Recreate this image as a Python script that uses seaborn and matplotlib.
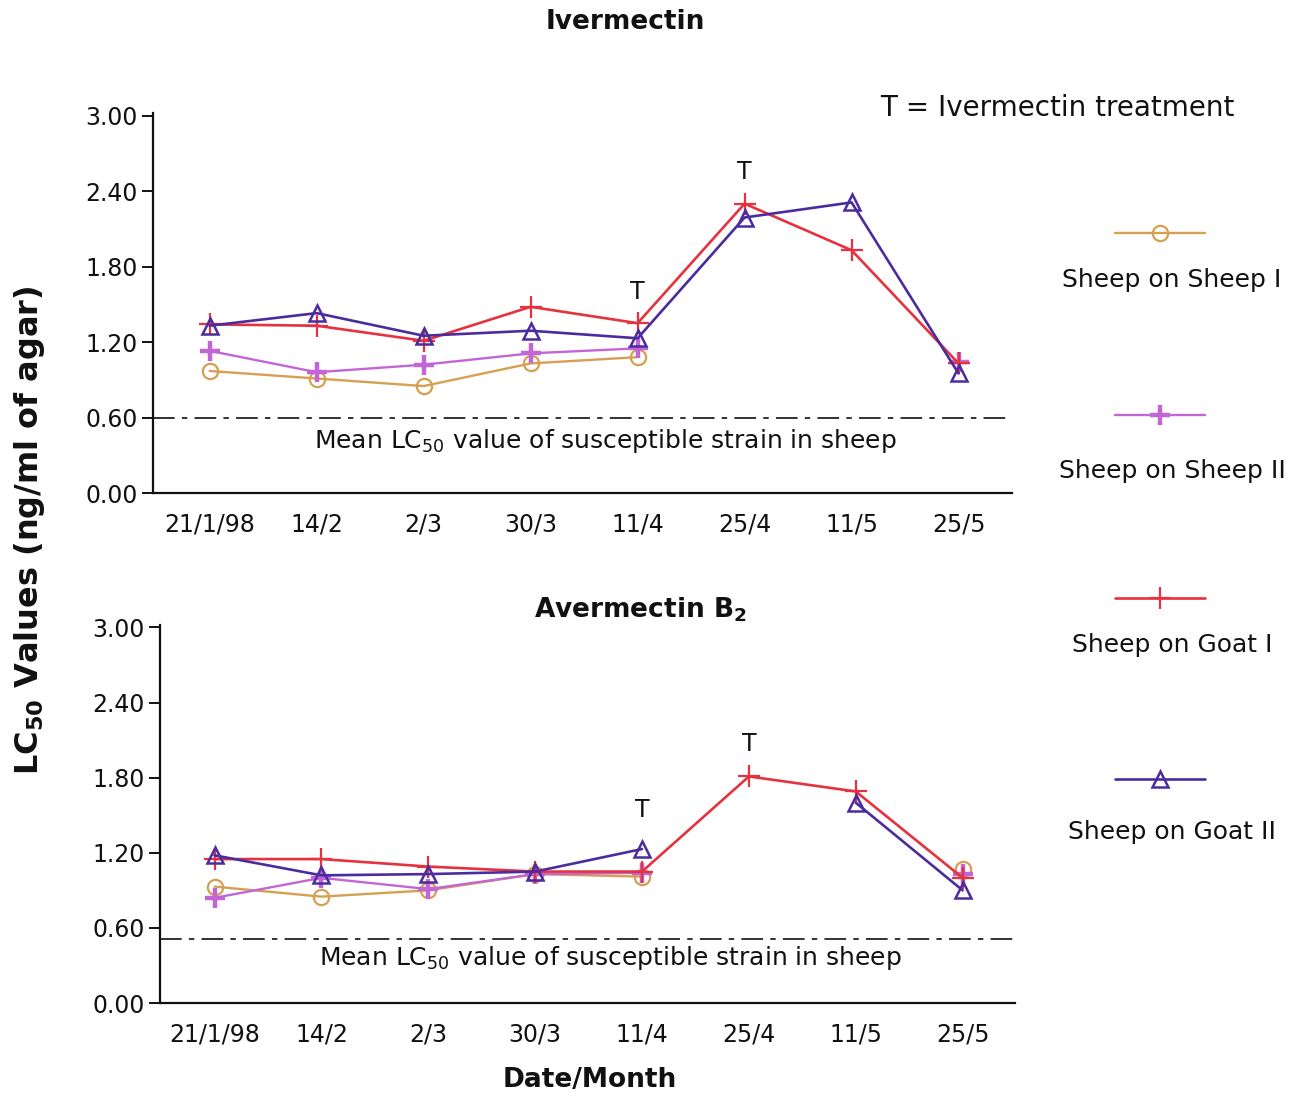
import numpy as np
import pandas as pd
import matplotlib
matplotlib.use("Agg")
import matplotlib.pyplot as plt
from matplotlib.lines import Line2D
import seaborn as sns

# Sampling dates (x categories)
dates = ["21/1/98", "14/2", "2/3", "30/3", "11/4", "25/4", "11/5", "25/5"]
y_ticks = [0.00, 0.60, 1.20, 1.80, 2.40, 3.00]

nan = np.nan
# LC50 values, Ivermectin
iver_sheep_sheep1 = [0.97, 0.91, 0.85, 1.03, 1.08, nan, nan, nan]
iver_sheep_sheep2 = [1.13, 0.96, 1.02, 1.11, 1.15, nan, nan, 1.04]
iver_sheep_goat1 = [1.34, 1.33, 1.21, 1.48, 1.35, 2.30, 1.93, 1.03]
iver_sheep_goat2 = [1.33, 1.43, 1.25, 1.29, 1.23, 2.19, 2.31, 0.95]

# LC50 values, Avermectin B2
aver_sheep_sheep1 = [0.93, 0.85, 0.90, 1.03, 1.01, nan, nan, 1.07]
aver_sheep_sheep2 = [0.84, 1.00, 0.91, 1.03, 1.04, nan, nan, 1.03]
aver_sheep_goat1 = [1.15, 1.15, 1.09, 1.05, 1.05, 1.81, 1.69, 1.00]
aver_sheep_goat2 = [1.18, 1.02, 1.03, 1.05, 1.23, nan, 1.60, 0.90]

# Mean LC50 of the susceptible strain
iver_susceptible = 0.60
aver_susceptible = 0.51

# Treatment dates (index into dates) and label heights
iver_treat = [(4, 1.60), (5, 2.55)]
aver_treat = [(4, 1.54), (5, 2.07)]

series_names = ["Sheep on Sheep I", "Sheep on Sheep II", "Sheep on Goat I", "Sheep on Goat II"]
styles = {
    "Sheep on Sheep I": dict(color="#D6A052", marker="o", ms=11, mew=1.6, fill="none", lw=1.7),
    "Sheep on Sheep II": dict(color="#C266D6", marker="+", ms=14, mew=3.2, fill="none", lw=1.7),
    "Sheep on Goat I": dict(color="#E6323E", marker="+", ms=16, mew=1.6, fill="none", lw=1.9),
    "Sheep on Goat II": dict(color="#4B2C9E", marker="^", ms=12, mew=1.8, fill="none", lw=1.9),
}

INK = "#111111"
sns.set_theme(style="ticks")
plt.rcParams["font.family"] = ["DejaVu Sans"]
plt.rcParams["text.color"] = INK
plt.rcParams["xtick.color"] = INK
plt.rcParams["ytick.color"] = INK

fig = plt.figure(figsize=(13.03, 10.98), dpi=100)
ax_top = fig.add_axes([0.1174, 0.551, 0.6593, 0.346])
ax_bot = fig.add_axes([0.1228, 0.0865, 0.6562, 0.3443])


def draw_series(ax, name, values):
    st = styles[name]
    df = pd.DataFrame({"x": np.arange(len(dates)), "y": values})
    # split into contiguous runs so gaps are not bridged
    valid = df["y"].notna().to_numpy()
    run_id = np.cumsum(np.r_[True, valid[1:] != valid[:-1]])
    for rid in np.unique(run_id[valid]):
        seg = df[(run_id == rid) & valid]
        sns.lineplot(data=seg, x="x", y="y", ax=ax, color=st["color"],
                     marker=st["marker"], markersize=st["ms"],
                     markerfacecolor=st["fill"], markeredgecolor=st["color"],
                     markeredgewidth=st["mew"], linewidth=st["lw"],
                     legend=False, estimator=None, sort=False)


def style_axes(ax, xlim, susceptible, mean_text_y, treat):
    ax.set_xlim(*xlim)
    ax.set_ylim(0, 3.02)
    ax.set_xticks(range(len(dates)))
    ax.set_xticklabels(dates, fontsize=17)
    ax.set_yticks(y_ticks)
    ax.set_yticklabels([f"{v:.2f}" for v in y_ticks], fontsize=17)
    ax.tick_params(axis="x", length=0, pad=14)
    ax.tick_params(axis="y", length=8, width=1.4, pad=3, color=INK)
    ax.set_xlabel("")
    ax.set_ylabel("")
    for s in ["top", "right"]:
        ax.spines[s].set_visible(False)
    for s in ["left", "bottom"]:
        ax.spines[s].set_linewidth(1.6)
        ax.spines[s].set_color(INK)
    ax.axhline(susceptible, color="#222222", lw=1.3, dashes=(12, 4, 3, 4), zorder=1)
    ax.text(3.7, mean_text_y, "Mean LC$_{50}$ value of susceptible strain in sheep",
            ha="center", va="center", fontsize=18)
    for xi, yt in treat:
        ax.text(xi, yt, "T", ha="center", va="center", fontsize=17)
    ax.set_facecolor("white")


for name, vals in zip(series_names, [iver_sheep_sheep1, iver_sheep_sheep2,
                                     iver_sheep_goat1, iver_sheep_goat2]):
    draw_series(ax_top, name, vals)
for name, vals in zip(series_names, [aver_sheep_sheep1, aver_sheep_sheep2,
                                     aver_sheep_goat1, aver_sheep_goat2]):
    draw_series(ax_bot, name, vals)

style_axes(ax_top, (-0.53, 7.5), iver_susceptible, 0.41, iver_treat)
style_axes(ax_bot, (-0.51, 7.49), aver_susceptible, 0.36, aver_treat)

fig.text(625 / 1303, 1 - 22 / 1098, "Ivermectin", ha="center", va="center",
         fontsize=19, fontweight="bold")
fig.text(640 / 1303, 1 - 610 / 1098, "Avermectin B$_{\\mathbf{2}}$", ha="center", va="center",
         fontsize=19, fontweight="bold")
fig.text(1057 / 1303, 1 - 108 / 1098, "T = Ivermectin treatment", ha="center", va="center",
         fontsize=20)

fig.text(30 / 1303, 1 - 530 / 1098, "LC$_{\\mathbf{50}}$ Values (ng/ml of agar)", rotation=90,
         ha="center", va="center", fontsize=23, fontweight="bold")
fig.text(590 / 1303, 1 - 1080 / 1098, "Date/Month", ha="center", va="center",
         fontsize=19, fontweight="bold")

# Legend: each line sample with its label underneath
legend_rows = [(235, 280), (417, 471), (600, 645), (781, 832)]
for name, (y_line, y_lab) in zip(series_names, legend_rows):
    st = styles[name]
    h = Line2D([], [], color=st["color"], marker=st["marker"], markersize=st["ms"],
               markerfacecolor=st["fill"], markeredgecolor=st["color"],
               markeredgewidth=st["mew"], linewidth=st["lw"])
    fig.legend(handles=[h], labels=[""], loc="center",
               bbox_to_anchor=(1160 / 1303, 1 - y_line / 1098), frameon=False,
               handlelength=3.6, handletextpad=0, borderpad=0, fontsize=18)
    fig.text(1172 / 1303, 1 - y_lab / 1098, name, ha="center", va="center", fontsize=18)

fig.savefig("out.png", dpi=100, facecolor="white")
